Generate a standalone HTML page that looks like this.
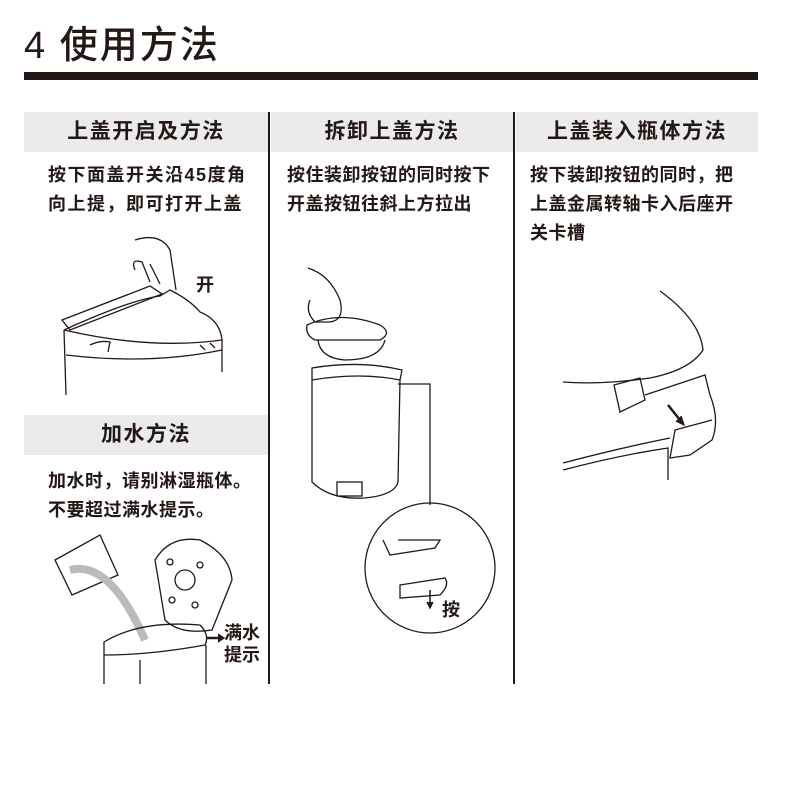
<!DOCTYPE html>
<html><head><meta charset="utf-8"><style>
body{margin:0;background:#fff;width:790px;height:797px;overflow:hidden;position:relative;font-family:"Liberation Sans","Noto Sans CJK SC",sans-serif;color:#231815}
.a{position:absolute}
.hd{position:absolute;background:#ebebeb;height:40px;line-height:40px;text-align:center;font-size:21px;font-weight:700;letter-spacing:1.5px}
.t{position:absolute;font-size:18px;line-height:29px;font-weight:700;white-space:nowrap;letter-spacing:1.5px}
</style></head><body>
<div class="a" style="left:24px;top:22px;font-size:38px;line-height:48px;font-weight:500;letter-spacing:2px">4 使用方法</div>
<div class="a" style="left:24px;top:72px;width:734px;height:8px;background:#231815"></div>
<div class="hd" style="left:24px;top:112px;width:244px">上盖开启及方法</div>
<div class="hd" style="left:271px;top:112px;width:242px">拆卸上盖方法</div>
<div class="hd" style="left:516px;top:112px;width:242px">上盖装入瓶体方法</div>
<div class="hd" style="left:24px;top:415px;width:244px">加水方法</div>
<div class="a" style="left:268px;top:112px;width:2px;height:572px;background:#231815"></div>
<div class="a" style="left:513px;top:112px;width:2px;height:572px;background:#231815"></div>
<div class="t" style="left:48px;top:161px">按下面盖开关沿45度角<br>向上提，即可打开上盖</div>
<div class="t" style="left:287px;top:161px;letter-spacing:0.5px">按住装卸按钮的同时按下<br>开盖按钮往斜上方拉出</div>
<div class="t" style="left:530px;top:161px;letter-spacing:0.5px">按下装卸按钮的同时，把<br>上盖金属转轴卡入后座开<br>关卡槽</div>
<div class="t" style="left:48px;top:467px;letter-spacing:0.5px">加水时，请别淋湿瓶体。<br>不要超过满水提示。</div>
<div class="t" style="left:196px;top:271px">开</div>
<div class="t" style="left:224px;top:622px;line-height:22px;letter-spacing:0">满水<br>提示</div>
<div class="t" style="left:442px;top:596px">按</div>
<svg class="a" style="left:0;top:0" width="790" height="797" fill="none" stroke="#231815" stroke-width="1.3">
<path d="M64 330 Q130 300 160 296 L170 290 Q190 300 200 312 Q220 320 222 340 L222 372 M64 330 L66 395 M64 330 Q150 350 222 340 M66 355 Q150 365 222 350"/>
<path d="M62 320 L150 286 L162 294 L70 330 Z"/>
<path d="M135 240 Q160 232 170 250 L176 290 M135 270 Q130 258 142 262 L150 282 M150 264 L160 284"/>
<path d="M90 345 Q100 340 110 342 L108 352 M200 345 L205 350 M210 343 L215 348"/>
<path d="M55 560 L100 535 L118 575 L72 595 Z" />
<path d="M70 570 Q110 560 145 640" stroke="#bbb" stroke-width="8"/>
<path d="M155 560 Q170 535 200 540 Q230 555 232 580 L212 630 Q180 635 165 620 Z"/>
<circle cx="185" cy="580" r="10"/><circle cx="170" cy="562" r="3"/><circle cx="200" cy="565" r="3"/><circle cx="172" cy="600" r="3"/><circle cx="195" cy="605" r="3"/>
<path d="M104 642 Q140 620 200 625 Q210 635 205 645 Q150 655 104 655 Z M104 655 L104 684 M140 660 L140 684 M206 645 L206 684"/>
<path d="M206 638 L220 638" stroke-width="2.5"/><path d="M218 634 L224 638 L218 642" fill="#231815"/>
<path d="M308 268 Q330 275 340 300 Q345 320 330 322 L315 322 Q305 312 310 300"/>
<path d="M307 325 Q340 310 380 325 Q393 333 380 340 L315 340 Q305 335 307 325 Z M318 340 Q320 358 345 360 Q380 360 385 340"/>
<path d="M312 368 Q360 360 402 370 L400 380 Q360 372 312 380 Z M312 380 L312 482 Q330 500 365 498 Q395 495 398 482 L400 380"/>
<rect x="337" y="482" width="25" height="14"/>
<path d="M398 384 L430 384 L430 505"/>
<circle cx="430" cy="568" r="65"/>
<path d="M383 540 L390 555 L435 548 L440 540 L398 540 M400 585 L445 578 Q450 585 440 595 L400 598 Z"/>
<path d="M430 590 L430 605" stroke-width="1.5"/><path d="M427 602 L430 608 L433 602" fill="#231815"/>
<path d="M660 291 Q700 320 703 350 Q690 370 650 378 Q600 385 563 382"/>
<path d="M614 385 L640 378 L645 400 L620 412 Z M645 395 L690 380 M690 380 L705 375 L710 395 Q720 420 712 440 L690 455 L670 458 L675 430 L712 420"/>
<path d="M563 470 Q620 455 668 448 L668 480 M563 463 Q620 448 670 438"/>
<path d="M668 405 L680 420" stroke-width="2.5"/><path d="M676 421 L684 425 L681 416" fill="#231815"/>
</svg>
</body></html>
